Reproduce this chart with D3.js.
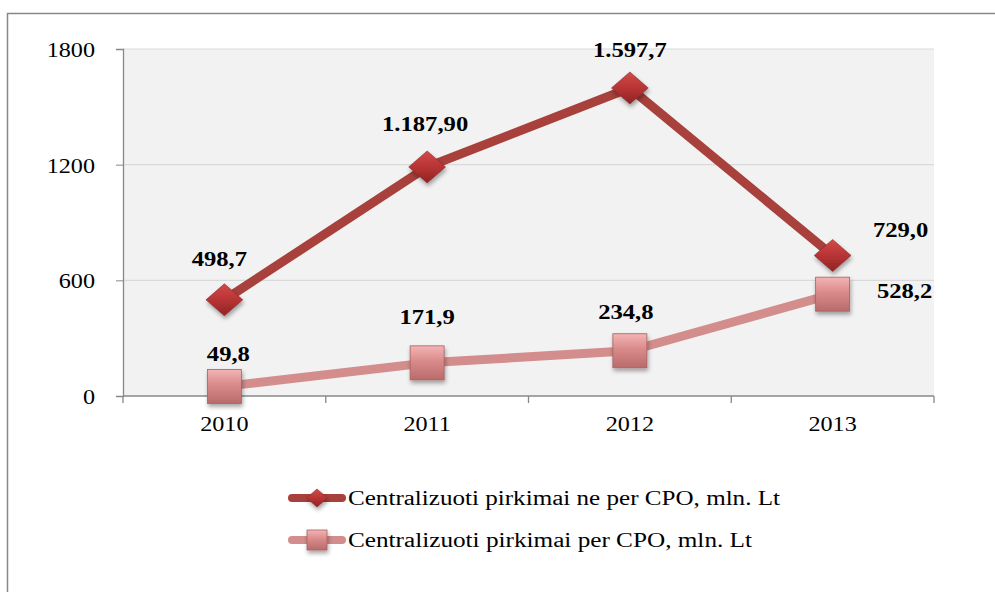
<!DOCTYPE html>
<html>
<head>
<meta charset="utf-8">
<script src="https://cdn.jsdelivr.net/npm/d3@7"></script>
<style>
  body { margin: 0; background: #fff; }
  svg text { font-family: "Liberation Serif", serif; }
</style>
</head>
<body>
<div id="chart-area"></div>
<script>

var years = ["2010", "2011", "2012", "2013"];
var nePerCPO = [498.7, 1187.9, 1597.7, 729.0];
var perCPO = [49.8, 171.9, 234.8, 528.2];
var neLabels = ["498,7", "1.187,90", "1.597,7", "729,0"];
var perLabels = ["49,8", "171,9", "234,8", "528,2"];
var yTicks = [0, 600, 1200, 1800];
var seriesNames = ["Centralizuoti pirkimai ne per CPO, mln. Lt", "Centralizuoti pirkimai per CPO, mln. Lt"];

var W = 995, H = 592;
var margin = {top: 49, right: 61, bottom: 196, left: 123},
    width = W - margin.left - margin.right,
    height = H - margin.top - margin.bottom;

var svg = d3.select("#chart-area")
    .append("svg")
        .attr("width", W)
        .attr("height", H)
        .attr("font-family", "Liberation Serif");

var defs = svg.append("defs");

// soft shadow under markers
var sh = defs.append("filter").attr("id", "shadow")
    .attr("x", "-50%").attr("y", "-50%").attr("width", "200%").attr("height", "200%");
sh.append("feDropShadow").attr("dx", 1).attr("dy", 3).attr("stdDeviation", 2)
    .attr("flood-color", "#000").attr("flood-opacity", 0.35);

var gd = defs.append("linearGradient").attr("id", "gDiamond")
    .attr("x1", 0).attr("y1", 0).attr("x2", 0).attr("y2", 1);
gd.append("stop").attr("offset", "0%").attr("stop-color", "#d14a4a");
gd.append("stop").attr("offset", "50%").attr("stop-color", "#b83434");
gd.append("stop").attr("offset", "100%").attr("stop-color", "#8e2424");

var gs = defs.append("linearGradient").attr("id", "gSquare")
    .attr("x1", 0).attr("y1", 0).attr("x2", 0).attr("y2", 1);
gs.append("stop").attr("offset", "0%").attr("stop-color", "#f4b4b4");
gs.append("stop").attr("offset", "45%").attr("stop-color", "#d98a8a");
gs.append("stop").attr("offset", "100%").attr("stop-color", "#b96a6a");

// outer frame (runs past the right edge)
svg.append("path")
    .attr("d", "M7.5,600 V13.5 H1000")
    .attr("fill", "none")
    .attr("stroke", "#888")
    .attr("stroke-width", 1.5);

var g = svg.append("g")
        .attr("transform", "translate(" + margin.left + "," + margin.top + ")");

var xScale = d3.scaleBand().domain(years).range([0, width]);
var yScale = d3.scaleLinear().domain([0, 1800]).range([height, 0]);

// the original text looks horizontally stretched
function stretch(sel, k) {
    sel.each(function() {
        var len = this.getComputedTextLength();
        d3.select(this).attr("textLength", len * k).attr("lengthAdjust", "spacingAndGlyphs");
    });
}

g.append("rect")
    .attr("width", width).attr("height", height)
    .attr("fill", "#f2f2f2");

// gridlines
g.selectAll(".grid").data(yTicks.slice(1)).enter()
    .append("line")
    .attr("x1", 0).attr("x2", width)
    .attr("y1", function(d) { return yScale(d); })
    .attr("y2", function(d) { return yScale(d); })
    .attr("stroke", "#d9d9d9")
    .attr("stroke-width", 1.2);

var yAxis = d3.axisLeft(yScale).tickValues(yTicks).tickFormat(d3.format("d"))
    .tickSize(7).tickPadding(21);
var yAxisEl = g.append("g").call(yAxis);
yAxisEl.attr("font-family", null);
yAxisEl.select(".domain").attr("stroke", "#888").attr("stroke-width", 1.3);
yAxisEl.selectAll(".tick line").attr("stroke", "#888");
yAxisEl.selectAll(".tick text")
    .attr("font-size", 21).attr("fill", "#000").attr("dy", "0.35em")
    .call(stretch, 1.15);

var xAxisEl = g.append("g")
        .attr("transform", "translate(0," + height + ")");
xAxisEl.append("line")
    .attr("x1", 0).attr("x2", width)
    .attr("stroke", "#888").attr("stroke-width", 1.3);
var bounds = years.map(function(d) { return xScale(d); }).concat([width]);
xAxisEl.selectAll(".xt").data(bounds).enter()
    .append("line")
    .attr("x1", function(d) { return d; }).attr("x2", function(d) { return d; })
    .attr("y1", 0).attr("y2", 7)
    .attr("stroke", "#888").attr("stroke-width", 1.3);
xAxisEl.selectAll(".xl").data(years).enter()
    .append("text")
    .attr("x", function(d) { return xScale(d) + xScale.bandwidth() / 2; })
    .attr("y", 35)
    .attr("text-anchor", "middle")
    .attr("font-size", 21)
    .text(function(d) { return d; })
    .call(stretch, 1.15);

function cx(i) { return xScale(years[i]) + xScale.bandwidth() / 2; }

var line = d3.line()
    .x(function(d, i) { return cx(i); })
    .y(function(d) { return yScale(d); });

var colNe = "#a8403c", colPer = "#d38d8c";

g.append("path").datum(perCPO)
    .attr("d", line).attr("fill", "none")
    .attr("stroke", colPer).attr("stroke-width", 9)
    .attr("stroke-linejoin", "round");

g.append("path").datum(nePerCPO)
    .attr("d", line).attr("fill", "none")
    .attr("stroke", colNe).attr("stroke-width", 9)
    .attr("stroke-linejoin", "round");

function diamond(sel, s) {
    sel.attr("d", "M0," + (-s) + " L" + (s * 1.15) + ",0 L0," + s + " L" + (-s * 1.15) + ",0Z")
        .attr("fill", "url(#gDiamond)")
        .attr("stroke", "#8a2a2a").attr("stroke-width", 0.6)
        .attr("filter", "url(#shadow)");
}
function square(sel, s) {
    sel.attr("x", -s).attr("y", -s).attr("width", 2 * s).attr("height", 2 * s)
        .attr("fill", "url(#gSquare)")
        .attr("stroke", "#a76060").attr("stroke-width", 0.8)
        .attr("filter", "url(#shadow)");
}

g.selectAll(".sq").data(perCPO).enter()
    .append("rect")
    .attr("transform", function(d, i) { return "translate(" + cx(i) + "," + yScale(d) + ")"; })
    .call(square, 17);

g.selectAll(".dm").data(nePerCPO).enter()
    .append("path")
    .attr("transform", function(d, i) { return "translate(" + cx(i) + "," + yScale(d) + ")"; })
    .call(diamond, 16);

// data labels
var neOff = [[-5, -34], [-2, -36], [0, -31], [68, -18]];
var perOff = [[4, -25], [0, -39], [-4, -32], [72, 4]];

g.selectAll(".nl").data(nePerCPO).enter()
    .append("text")
    .attr("x", function(d, i) { return cx(i) + neOff[i][0]; })
    .attr("y", function(d, i) { return yScale(d) + neOff[i][1]; })
    .attr("text-anchor", "middle")
    .attr("font-size", 22).attr("font-weight", "bold")
    .text(function(d, i) { return neLabels[i]; })
    .call(stretch, 1.12);

g.selectAll(".pl").data(perCPO).enter()
    .append("text")
    .attr("x", function(d, i) { return cx(i) + perOff[i][0]; })
    .attr("y", function(d, i) { return yScale(d) + perOff[i][1]; })
    .attr("text-anchor", "middle")
    .attr("font-size", 22).attr("font-weight", "bold")
    .text(function(d, i) { return perLabels[i]; })
    .call(stretch, 1.12);

// legend
var legend = svg.append("g").attr("transform", "translate(288,498)");
var textLens = [432, 404];
seriesNames.forEach(function(name, i) {
    var row = legend.append("g").attr("transform", "translate(0," + (i * 42) + ")");
    row.append("line")
        .attr("x1", 4).attr("x2", 54)
        .attr("stroke", i === 0 ? colNe : colPer)
        .attr("stroke-width", 8).attr("stroke-linecap", "round");
    if (i === 0) {
        row.append("path").attr("transform", "translate(29,0)").call(diamond, 9);
    } else {
        row.append("rect").attr("transform", "translate(29,0)").call(square, 10);
    }
    row.append("text")
        .attr("x", 60).attr("y", 7)
        .attr("font-size", 20)
        .attr("textLength", textLens[i])
        .attr("lengthAdjust", "spacingAndGlyphs")
        .text(name);
});

</script>
</body>
</html>
